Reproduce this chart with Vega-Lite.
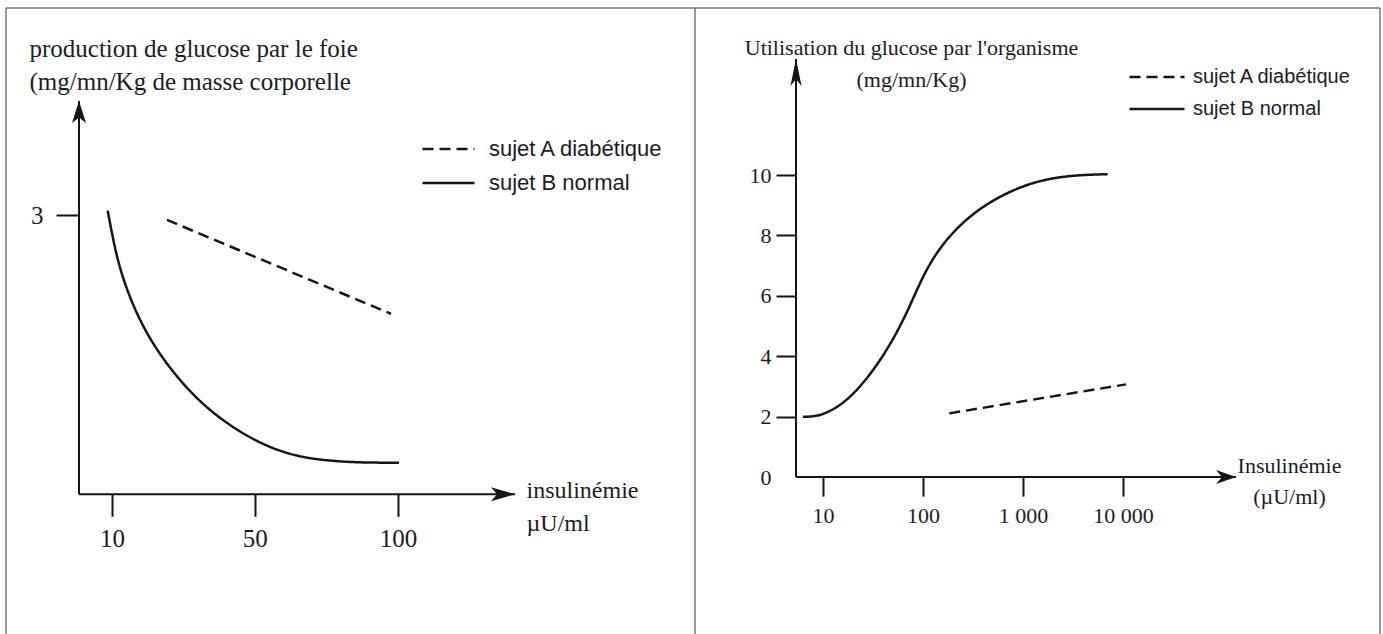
{
  "$schema": "https://vega.github.io/schema/vega-lite/v6.json",
  "padding": {"left": 5, "top": 7, "right": 4, "bottom": 0},
  "background": "white",
  "bounds": "flush",
  "spacing": 0,
  "config": {
    "view": {"stroke": null},
    "concat": {"spacing": 0},
    "axis": {
      "grid": false, "domain": false,
      "labelFont": "Liberation Serif", "titleFont": "Liberation Serif",
      "labelColor": "#1c1c28", "titleColor": "#1c1c28",
      "tickColor": "#151515", "tickWidth": 2,
      "titleFontWeight": "normal", "labelFlush": false, "labelOverlap": false
    }
  },
  "datasets": {
    "production": [
      {"sujet": "sujet B normal", "insulinemie": 9.04, "production": 3.05},
      {"sujet": "sujet B normal", "insulinemie": 10.6, "production": 2.65},
      {"sujet": "sujet B normal", "insulinemie": 12.4, "production": 2.33},
      {"sujet": "sujet B normal", "insulinemie": 16.12, "production": 1.90},
      {"sujet": "sujet B normal", "insulinemie": 22.17, "production": 1.47},
      {"sujet": "sujet B normal", "insulinemie": 31.48, "production": 1.04},
      {"sujet": "sujet B normal", "insulinemie": 41.47, "production": 0.75},
      {"sujet": "sujet B normal", "insulinemie": 51.98, "production": 0.54},
      {"sujet": "sujet B normal", "insulinemie": 63.0, "production": 0.41},
      {"sujet": "sujet B normal", "insulinemie": 74.5, "production": 0.36},
      {"sujet": "sujet B normal", "insulinemie": 86.4, "production": 0.34},
      {"sujet": "sujet B normal", "insulinemie": 100.4, "production": 0.34},
      {"sujet": "sujet A diabétique", "insulinemie": 23.8, "production": 2.95},
      {"sujet": "sujet A diabétique", "insulinemie": 97.4, "production": 1.94}
    ],
    "utilisation": [
      {"sujet": "sujet B normal", "insulinemie": 6.3, "utilisation": 2.0},
      {"sujet": "sujet B normal", "insulinemie": 8.2, "utilisation": 2.0},
      {"sujet": "sujet B normal", "insulinemie": 11.1, "utilisation": 2.13},
      {"sujet": "sujet B normal", "insulinemie": 16.3, "utilisation": 2.46},
      {"sujet": "sujet B normal", "insulinemie": 24, "utilisation": 3.02},
      {"sujet": "sujet B normal", "insulinemie": 35.2, "utilisation": 3.73},
      {"sujet": "sujet B normal", "insulinemie": 51.6, "utilisation": 4.62},
      {"sujet": "sujet B normal", "insulinemie": 70.3, "utilisation": 5.5},
      {"sujet": "sujet B normal", "insulinemie": 88.5, "utilisation": 6.27},
      {"sujet": "sujet B normal", "insulinemie": 120, "utilisation": 7.16},
      {"sujet": "sujet B normal", "insulinemie": 177, "utilisation": 7.93},
      {"sujet": "sujet B normal", "insulinemie": 280, "utilisation": 8.59},
      {"sujet": "sujet B normal", "insulinemie": 479, "utilisation": 9.14},
      {"sujet": "sujet B normal", "insulinemie": 885, "utilisation": 9.58},
      {"sujet": "sujet B normal", "insulinemie": 1633, "utilisation": 9.86},
      {"sujet": "sujet B normal", "insulinemie": 3258, "utilisation": 10.0},
      {"sujet": "sujet B normal", "insulinemie": 7031, "utilisation": 10.03},
      {"sujet": "sujet A diabétique", "insulinemie": 183, "utilisation": 2.11},
      {"sujet": "sujet A diabétique", "insulinemie": 10720, "utilisation": 3.07}
    ]
  },
  "resolve": {"scale": {"strokeDash": "independent"}, "legend": {"strokeDash": "independent"}},
  "hconcat": [
    {
      "width": 689,
      "height": 627,
      "layer": [
        {
          "data": {"name": "production"},
          "mark": {"type": "line", "color": "#151515", "strokeWidth": 2.5, "interpolate": "basis"},
          "encoding": {
            "x": {
              "field": "insulinemie", "type": "quantitative",
              "scale": {"type": "pow", "exponent": 0.78, "domain": [-8.273, 222.5], "nice": false, "zero": false},
              "axis": {
                "orient": "bottom", "offset": -140.7, "values": [10, 50, 100],
                "tickSize": 22, "labelPadding": 10, "labelFontSize": 25,
                "title": ["insulinémie", "µU/ml"], "titleFontSize": 24,
                "titleAlign": "left", "titleBaseline": "alphabetic",
                "titleX": 520, "titleY": 3, "titleLineHeight": 33
              }
            },
            "y": {
              "field": "production", "type": "quantitative",
              "scale": {"domain": [-1.513, 5.229], "nice": false, "zero": false},
              "axis": {
                "orient": "left", "offset": -73, "values": [3], "format": "d",
                "tickSize": 23, "labelPadding": 13, "labelFontSize": 25,
                "title": ["production de glucose par le foie", "(mg/mn/Kg de masse corporelle"],
                "titleFontSize": 25, "titleAngle": 0, "titleAlign": "left", "titleBaseline": "alphabetic",
                "titleX": -50, "titleY": 48, "titleLineHeight": 33
              }
            },
            "strokeDash": {
              "field": "sujet", "type": "nominal",
              "scale": {"domain": ["sujet A diabétique", "sujet B normal"], "range": [[11, 6], [1, 0]]},
              "legend": {
                "orient": "none", "legendX": 415, "legendY": 124, "title": null,
                "symbolType": "stroke", "symbolSize": 2704, "symbolStrokeWidth": 2.5, "symbolStrokeColor": "#151515",
                "labelFont": "Liberation Sans", "labelFontSize": 22, "labelColor": "#1c1c28", "labelLimit": 400,
                "labelOffset": 13, "clipHeight": 34, "rowPadding": 0, "padding": 0
              }
            }
          }
        },
        {
          "data": {"values": [{}]},
          "mark": {"type": "rule", "color": "#151515", "strokeWidth": 2},
          "encoding": {"x": {"datum": 3.29}, "y": {"datum": 0}, "y2": {"datum": 4.229}}
        },
        {
          "data": {"values": [{}]},
          "mark": {"type": "rule", "color": "#151515", "strokeWidth": 2},
          "encoding": {"x": {"datum": 3.29}, "x2": {"datum": 145.7}, "y": {"datum": 0}}
        },
        {
          "data": {"values": [{}]},
          "mark": {"type": "point", "shape": "M0,0 L-0.64,2 L0,1.5 L0.64,2 Z", "filled": true, "color": "#151515", "opacity": 1, "size": 484},
          "encoding": {"x": {"datum": 3.29}, "y": {"datum": 4.229}}
        },
        {
          "data": {"values": [{}]},
          "mark": {"type": "point", "shape": "M0,0 L-2,-0.58 L-1.5,0 L-2,0.58 Z", "filled": true, "color": "#151515", "opacity": 1, "size": 576},
          "encoding": {"x": {"datum": 145.7}, "y": {"datum": 0}}
        },
        {
          "data": {"values": [{}]},
          "mark": {"type": "rule", "color": "#74748a", "strokeWidth": 1.5},
          "encoding": {"x": {"datum": -8.273}, "x2": {"datum": 222.5}, "y": {"datum": 5.229}}
        },
        {
          "data": {"values": [{}]},
          "mark": {"type": "rule", "color": "#74748a", "strokeWidth": 1.5},
          "encoding": {"x": {"datum": -8.273}, "y": {"datum": -1.513}, "y2": {"datum": 5.229}}
        },
        {
          "data": {"values": [{}]},
          "mark": {"type": "rule", "color": "#74748a", "strokeWidth": 1.5},
          "encoding": {"x": {"datum": 222.5}, "y": {"datum": -1.513}, "y2": {"datum": 5.229}}
        }
      ]
    },
    {
      "width": 685,
      "height": 627,
      "layer": [
        {
          "data": {"name": "utilisation"},
          "mark": {"type": "line", "color": "#151515", "strokeWidth": 2.5, "interpolate": "basis"},
          "encoding": {
            "x": {
              "field": "insulinemie", "type": "quantitative",
              "scale": {"type": "log", "domain": [0.52481, 3715352], "nice": false},
              "axis": {
                "orient": "bottom", "offset": -157.9, "values": [10, 100, 1000, 10000],
                "tickSize": 19, "labelPadding": 9, "labelFontSize": 22,
                "labelExpr": "replace(format(datum.value, ','), ',', ' ')",
                "title": ["Insulinémie", "(µU/ml)"], "titleFontSize": 22,
                "titleAlign": "center", "titleBaseline": "alphabetic",
                "titleX": 594, "titleY": -5, "titleLineHeight": 31
              }
            },
            "y": {
              "field": "utilisation", "type": "quantitative",
              "scale": {"domain": [-5.2285, 15.533], "nice": false, "zero": false},
              "axis": {
                "orient": "left", "offset": -101, "values": [0, 2, 4, 6, 8, 10],
                "tickSize": 20, "labelPadding": 5, "labelFontSize": 22,
                "tickOpacity": {"condition": {"test": "datum.value === 0", "value": 0}, "value": 1},
                "title": ["Utilisation du glucose par l'organisme", "(mg/mn/Kg)"],
                "titleFontSize": 22, "titleAngle": 0, "titleAlign": "center", "titleBaseline": "alphabetic",
                "titleX": 115, "titleY": 46, "titleLineHeight": 32
              }
            },
            "strokeDash": {
              "field": "sujet", "type": "nominal",
              "scale": {"domain": ["sujet A diabétique", "sujet B normal"], "range": [[11, 6], [1, 0]]},
              "legend": {
                "orient": "none", "legendX": 433, "legendY": 53, "title": null,
                "symbolType": "stroke", "symbolSize": 3025, "symbolStrokeWidth": 2.5, "symbolStrokeColor": "#151515",
                "labelFont": "Liberation Sans", "labelFontSize": 20, "labelColor": "#1c1c28", "labelLimit": 400,
                "labelOffset": 7, "clipHeight": 32, "rowPadding": 0, "padding": 0
              }
            }
          }
        },
        {
          "data": {"values": [{}]},
          "mark": {"type": "rule", "color": "#151515", "strokeWidth": 2},
          "encoding": {"x": {"datum": 5.37}, "y": {"datum": 0}, "y2": {"datum": 13.844}}
        },
        {
          "data": {"values": [{}]},
          "mark": {"type": "rule", "color": "#151515", "strokeWidth": 2},
          "encoding": {"x": {"datum": 5.37}, "x2": {"datum": 134896}, "y": {"datum": 0}}
        },
        {
          "data": {"values": [{}]},
          "mark": {"type": "point", "shape": "M0,0 L-0.41,2 L0,1.5 L0.41,2 Z", "filled": true, "color": "#151515", "opacity": 1, "size": 729},
          "encoding": {"x": {"datum": 5.37}, "y": {"datum": 13.844}}
        },
        {
          "data": {"values": [{}]},
          "mark": {"type": "point", "shape": "M0,0 L-2,-0.7 L-1.4,0 L-2,0.7 Z", "filled": true, "color": "#151515", "opacity": 1, "size": 400},
          "encoding": {"x": {"datum": 134896}, "y": {"datum": 0}}
        },
        {
          "data": {"values": [{}]},
          "mark": {"type": "rule", "color": "#74748a", "strokeWidth": 1.5},
          "encoding": {"x": {"datum": 0.52481}, "x2": {"datum": 3715352}, "y": {"datum": 15.533}}
        },
        {
          "data": {"values": [{}]},
          "mark": {"type": "rule", "color": "#74748a", "strokeWidth": 1.5},
          "encoding": {"x": {"datum": 3715352}, "y": {"datum": -5.2285}, "y2": {"datum": 15.533}}
        }
      ]
    }
  ]
}
